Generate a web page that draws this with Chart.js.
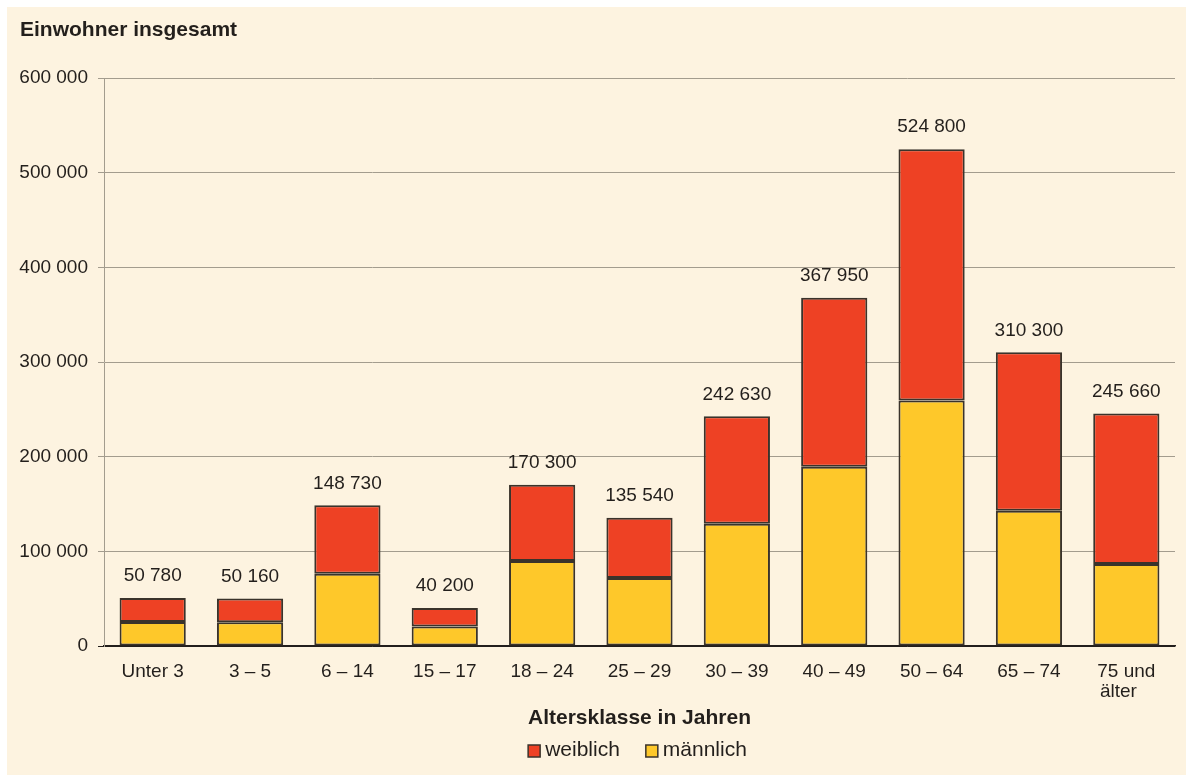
<!DOCTYPE html>
<html>
<head>
<meta charset="utf-8">
<script src="https://cdn.jsdelivr.net/npm/chart.js@4.4.0/dist/chart.umd.min.js"></script>
<style>
  html, body { margin: 0; padding: 0; background: #ffffff; }
  #wrap { position: absolute; left: 7px; top: 7px; width: 1179px; height: 768px; background: #fdf3e0; }
</style>
</head>
<body>
<div id="wrap"><canvas id="chart" width="1179" height="768"></canvas></div>
<script>
// second line of the last label padded so both lines start at the same x
const categories = ['Unter 3', '3 – 5', '6 – 14', '15 – 17', '18 – 24', '25 – 29', '30 – 39', '40 – 49', '50 – 64', '65 – 74', ['75 und', 'älter   ']];
const totals = [50780, 50160, 148730, 40200, 170300, 135540, 242630, 367950, 524800, 310300, 245660];
const maennlich = [25400, 25300, 76300, 20700, 90000, 72000, 129100, 189400, 259300, 142900, 86800];
const weiblich = [25380, 24860, 72430, 19500, 80300, 63540, 113530, 178550, 265500, 167400, 158860];
const yTicks = [0, 100000, 200000, 300000, 400000, 500000, 600000];

const FONT = '"Liberation Sans", Arial, sans-serif';
const TEXT = '#231f1c';
const EDGE = '#3a332b';

function fmt(v) {
    return String(v).replace(/\B(?=(\d{3})+(?!\d))/g, ' ');
}

// totals above the bars, chart title and legend (weiblich first)
const overlay = {
    id: 'overlay',
    afterDatasetsDraw(chart) {
        const ctx = chart.ctx;
        const y = chart.scales.y;
        const x = chart.scales.x;
        const area = chart.chartArea;
        ctx.save();
        ctx.fillStyle = TEXT;
        ctx.font = '19px ' + FONT;
        ctx.textAlign = 'center';
        ctx.textBaseline = 'middle';
        totals.forEach((t, i) => {
            ctx.fillText(fmt(t), x.getPixelForValue(i), y.getPixelForValue(t) - 22);
        });

        ctx.font = 'bold 21px ' + FONT;
        ctx.textAlign = 'left';
        ctx.fillText('Einwohner insgesamt', 13, 23);

        ctx.font = '21px ' + FONT;
        const items = chart.data.datasets.slice().reverse();
        const widths = items.map(d => 17 + ctx.measureText(d.label).width);
        const total = widths.reduce((a, b) => a + b, 0) + 26 * (items.length - 1);
        let lx = (area.left + area.right) / 2 - total / 2 - 2;
        const ly = 743;
        items.forEach((d, i) => {
            ctx.fillStyle = d.backgroundColor;
            ctx.fillRect(lx, ly - 5, 12, 12);
            ctx.strokeStyle = EDGE;
            ctx.lineWidth = 1.5;
            ctx.strokeRect(lx, ly - 5, 12, 12);
            ctx.fillStyle = TEXT;
            ctx.fillText(d.label, lx + 17, ly);
            lx += widths[i] + 26;
        });
        ctx.restore();
    }
};

new Chart(document.getElementById('chart'), {
    type: 'bar',
    data: {
        labels: categories,
        datasets: [
            {
                label: 'männlich',
                data: maennlich,
                backgroundColor: '#fec82a',
                borderColor: EDGE,
                borderWidth: 2,
                borderSkipped: false,
            },
            {
                label: 'weiblich',
                data: weiblich,
                backgroundColor: '#ee4124',
                borderColor: EDGE,
                borderWidth: 2,
                borderSkipped: false,
            },
        ]
    },
    options: {
        responsive: false,
        animation: false,
        layout: { padding: { left: 0, right: 11, top: 71, bottom: 46 } },
        datasets: { bar: { categoryPercentage: 1, barPercentage: 0.68 } },
        scales: {
            x: {
                stacked: true,
                grid: { display: false },
                border: { color: '#231f1c', width: 1.5 },
                ticks: { color: TEXT, font: { family: FONT, size: 19, lineHeight: 1.05 }, padding: 8, maxRotation: 0, autoSkip: false },
                title: { display: true, text: 'Altersklasse in Jahren', color: TEXT, font: { family: FONT, size: 21, weight: 'bold', lineHeight: 1.0 }, padding: { top: -2, bottom: 0 } }
            },
            y: {
                stacked: true,
                min: 0,
                max: 600000,
                afterFit(scale) { scale.width = 97; },
                afterBuildTicks(scale) { scale.ticks = yTicks.map(v => ({ value: v })); },
                grid: {
                    color: c => c.tick && c.tick.value === 0 ? '#231f1c' : '#a39c8e',
                    lineWidth: 1,
                    tickLength: 6,
                },
                border: { color: '#a39c8e', width: 1 },
                ticks: { color: TEXT, font: { family: FONT, size: 19 }, padding: 10, callback: v => fmt(v) }
            }
        },
        plugins: {
            legend: { display: false },
            tooltip: { enabled: false }
        }
    },
    plugins: [overlay]
});
</script>
</body>
</html>
